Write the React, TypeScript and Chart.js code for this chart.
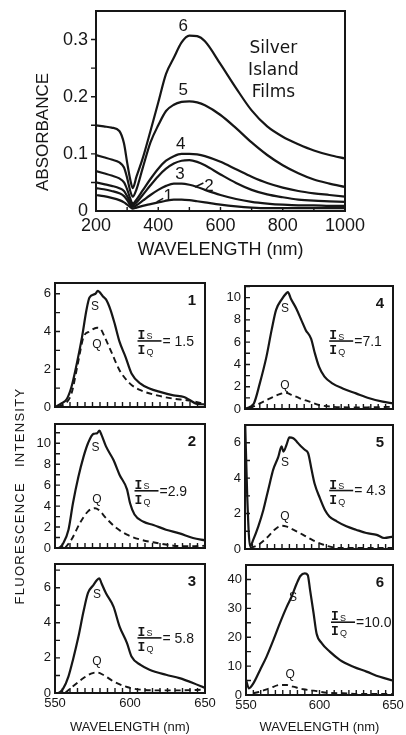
import React, { useEffect, useRef } from 'react';
import { Chart, registerables } from 'chart.js';

Chart.register(...registerables);

const FONT = "'Liberation Sans', Arial, sans-serif";
const MONO = "'Liberation Mono', 'DejaVu Sans Mono', monospace";
const DJV = "'DejaVu Sans', sans-serif";
const INK = '#161616';

// ---------------- Absorbance (top chart) ----------------
const absWl = [200, 225, 250, 275, 290, 300, 310, 318, 330, 350, 375, 400, 425, 450, 475, 500, 525, 550, 600, 650, 700, 750, 800, 850, 900, 950, 1000];
const abs1 = [0.028, 0.026, 0.023, 0.019, 0.015, 0.011, 0.007, 0.004, 0.006, 0.009, 0.012, 0.015, 0.018, 0.020, 0.020, 0.019, 0.017, 0.015, 0.011, 0.008, 0.006, 0.005, 0.005, 0.005, 0.005, 0.005, 0.005];
const abs2 = [0.040, 0.038, 0.035, 0.031, 0.026, 0.019, 0.011, 0.007, 0.010, 0.018, 0.028, 0.037, 0.044, 0.048, 0.048, 0.046, 0.042, 0.037, 0.028, 0.021, 0.016, 0.013, 0.011, 0.010, 0.010, 0.009, 0.009];
const abs3 = [0.050, 0.047, 0.044, 0.040, 0.035, 0.026, 0.016, 0.010, 0.015, 0.028, 0.045, 0.061, 0.074, 0.083, 0.088, 0.089, 0.086, 0.080, 0.064, 0.049, 0.037, 0.029, 0.024, 0.020, 0.018, 0.017, 0.016];
const abs4 = [0.070, 0.066, 0.062, 0.057, 0.050, 0.038, 0.022, 0.013, 0.020, 0.036, 0.056, 0.074, 0.088, 0.096, 0.100, 0.100, 0.099, 0.096, 0.086, 0.073, 0.060, 0.049, 0.041, 0.035, 0.031, 0.028, 0.025];
const abs5 = [0.098, 0.094, 0.090, 0.085, 0.076, 0.058, 0.035, 0.025, 0.038, 0.075, 0.120, 0.150, 0.175, 0.186, 0.191, 0.192, 0.190, 0.185, 0.168, 0.145, 0.120, 0.098, 0.080, 0.066, 0.055, 0.048, 0.042];
const abs6 = [0.150, 0.148, 0.146, 0.140, 0.118, 0.085, 0.055, 0.040, 0.060, 0.092, 0.140, 0.190, 0.240, 0.268, 0.295, 0.307, 0.306, 0.297, 0.257, 0.215, 0.176, 0.148, 0.130, 0.117, 0.106, 0.098, 0.092];

const absMinorX = [300, 400, 500, 600, 700, 800, 900];
const absMinorY = [0.05, 0.1, 0.15, 0.2, 0.25, 0.3];
const absCurveNames = ['1', '2', '3', '4', '5', '6'];
const absNameX = [432, 563, 470, 472, 480, 480];
const absNameY = [0.025, 0.044, 0.064, 0.116, 0.211, 0.323];
const silverLines = ['Silver', 'Island', 'Films'];
const silverY = [0.2845, 0.246, 0.2077];

// ---------------- Fluorescence panels ----------------
const wl1S = [550, 554, 558, 561, 564, 568, 571, 573, 577, 578.5, 582, 584, 587, 590, 593, 597, 601, 607, 613, 620, 629, 636, 640, 644, 650];
const in1S = [0, 0.18, 0.44, 1.07, 2.1, 3.7, 5.15, 5.8, 6.0, 6.15, 5.86, 5.7, 5.15, 4.35, 3.46, 2.66, 1.78, 1.24, 0.98, 0.8, 0.62, 0.53, 0.36, 0.18, 0.14];
const wl1Q = [552, 558, 561, 565, 569, 573, 578, 580, 583, 588, 593, 600, 607, 618, 629, 638, 644, 650];
const in1Q = [0, 0.27, 0.71, 2.2, 3.7, 4.0, 4.2, 4.17, 3.73, 2.84, 1.95, 1.24, 0.89, 0.62, 0.44, 0.36, 0.27, 0.14];

const wl2S = [550, 552, 555.6, 559, 562, 565.6, 569, 572, 575.6, 578, 579.6, 581, 584, 589, 593, 598, 600, 603, 609, 615.6, 624, 633, 642, 650];
const in2S = [0, 0, 0.48, 1.75, 4.3, 6.8, 8.7, 10, 10.9, 10.95, 11.2, 10.8, 9.7, 8.4, 7.0, 5.6, 4.3, 3.2, 2.5, 2.2, 1.75, 1.4, 0.95, 0.73];
const wl2Q = [556.7, 561, 566.7, 572, 576.7, 579, 584, 591, 598, 607, 618, 629, 640, 650];
const in2Q = [0, 0.8, 2.4, 3.5, 3.8, 3.65, 2.86, 1.9, 1.27, 0.8, 0.48, 0.22, 0.16, 0.22];

const wl3S = [550, 552, 555.6, 559, 562, 565.6, 569, 572, 575.6, 578, 579.6, 581, 584, 589, 593, 598, 601, 607, 613, 624, 633, 642, 650];
const in3S = [0, 0, 0.28, 0.95, 1.9, 3.2, 4.64, 5.7, 6.15, 6.44, 6.53, 6.25, 5.68, 4.92, 3.8, 2.84, 2.08, 1.6, 1.33, 1.04, 0.85, 0.57, 0.28];
const wl3Q = [556.7, 562, 569, 574, 578, 582, 589, 598, 607, 620, 633, 650];
const in3Q = [0, 0.38, 0.85, 1.1, 1.17, 1.04, 0.66, 0.34, 0.19, 0.15, 0.15, 0.19];

const wl4S = [550, 551, 556, 560, 564.5, 568, 571, 574.6, 578, 579, 581, 584.7, 588, 591, 594.7, 597, 600, 603.7, 609, 616, 625, 634, 643, 650];
const in4S = [0, 0.06, 0.5, 2.3, 4.7, 7.1, 8.9, 9.8, 10.4, 10.5, 9.9, 9.0, 8.0, 7.1, 6.3, 5.1, 3.8, 2.9, 2.3, 1.85, 1.4, 0.96, 0.66, 0.5];
const wl4Q = [553, 560, 567, 573.5, 577.5, 581, 587, 593.6, 600, 609, 620, 632, 650];
const in4Q = [0.06, 0.5, 0.96, 1.34, 1.46, 1.3, 0.96, 0.66, 0.36, 0.2, 0.15, 0.15, 0.2];

const wl5S = [550, 551.5, 553.4, 555.6, 559, 562.4, 564.6, 567, 569, 572.5, 574.7, 576, 578, 580, 582.6, 585, 587, 590.4, 592.7, 595, 597, 600.6, 604, 607, 612, 618.5, 625, 632, 639, 644, 650];
const in5S = [7.5, 3.0, 0.15, 0.53, 1.28, 2.2, 2.96, 3.8, 4.47, 5.2, 5.8, 5.5, 5.87, 6.3, 6.25, 6.06, 5.87, 5.6, 5.4, 4.47, 3.7, 2.87, 2.2, 1.84, 1.56, 1.28, 1.09, 0.9, 0.8, 0.62, 0.7];
const wl5Q = [553.4, 559, 564.6, 570, 574.7, 577.6, 582.6, 589.3, 596, 603, 614, 625, 639, 650];
const in5Q = [0.05, 0.24, 0.62, 1.09, 1.31, 1.28, 1.09, 0.8, 0.49, 0.24, 0.06, 0.06, 0.06, 0.06];

const wl6S = [550, 552, 555, 559.5, 564, 568.6, 573, 577.7, 581, 584.5, 587, 590, 592, 593.6, 596, 598, 601.6, 607, 614, 623, 632, 641, 650];
const in6S = [5.2, 2.3, 4.0, 8.6, 13.3, 19, 24.8, 30.5, 34, 38.6, 41.2, 42.1, 41.5, 36.3, 28.2, 21.3, 17.9, 15, 12.1, 9.8, 8.1, 6.3, 5];
const wl6Q = [555, 559.5, 566, 573, 577.7, 582, 589, 596, 605, 616, 628, 639, 650];
const in6Q = [0.6, 1.15, 2.3, 3.46, 3.46, 2.9, 2.0, 1.5, 0.8, 0.58, 0.35, 0.35, 0.35];

const ratioText = ['= 1.5', '=2.9', '= 5.8', '=7.1', '= 4.3', '=10.0'];
const panelMinorX = [555, 560, 565, 570, 575, 580, 585, 590, 595, 600, 605, 610, 615, 620, 625, 630, 635, 640, 645];
const minorY1 = [1, 2, 3, 4, 5, 6];
const minorY2 = [1, 2, 3, 4, 5, 6, 7, 8, 9, 10, 11];
const minorY3 = [1, 2, 3, 4, 5, 6, 7];
const minorY4 = [1, 2, 3, 4, 5, 6, 7, 8, 9, 10, 11];
const minorY5 = [1, 2, 3, 4, 5, 6];
const minorY6 = [5, 10, 15, 20, 25, 30, 35, 40];

const pts = (wl: number[], v: number[]) => wl.map((x, i) => ({ x, y: v[i] }));

function drawFraction(ctx: CanvasRenderingContext2D, cx: number, cy: number, ratio: string) {
  ctx.lineWidth = 1.6;
  ctx.beginPath();
  ctx.moveTo(cx - 12, cy);
  ctx.lineTo(cx + 12, cy);
  ctx.stroke();
  ctx.textAlign = 'left';
  ctx.textBaseline = 'alphabetic';
  ctx.font = `bold 13px ${MONO}`;
  ctx.fillText('I', cx - 12, cy - 2);
  ctx.fillText('I', cx - 12, cy + 13);
  ctx.font = `9px ${FONT}`;
  ctx.fillText('S', cx - 3, cy - 1.5);
  ctx.fillText('Q', cx - 3, cy + 14);
  ctx.font = `14px ${FONT}`;
  ctx.textBaseline = 'middle';
  ctx.fillText(ratio, cx + 13, cy + 1);
}

function makeDeco(d: any) {
  return {
    id: 'deco',
    afterDatasetsDraw(chart: any) {
      const ctx: CanvasRenderingContext2D = chart.ctx;
      const a = chart.chartArea;
      const xs = chart.scales.x;
      const ys = chart.scales.y;
      const X = (v: number) => xs.getPixelForValue(v);
      const Y = (v: number) => ys.getPixelForValue(v);
      ctx.save();
      ctx.strokeStyle = INK;
      ctx.fillStyle = INK;
      ctx.lineWidth = 2;
      ctx.strokeRect(a.left, a.top, a.right - a.left, a.bottom - a.top);
      ctx.lineWidth = 1.4;
      ctx.beginPath();
      d.xTicks.forEach((v: number) => { const p = X(v); ctx.moveTo(p, a.bottom); ctx.lineTo(p, a.bottom - d.xLen); });
      d.yTicks.forEach((v: number) => { const p = Y(v); ctx.moveTo(a.left, p); ctx.lineTo(a.left + d.yLen, p); });
      (d.leaders || []).forEach((l: number[]) => { ctx.moveTo(X(l[0]), Y(l[1])); ctx.lineTo(X(l[2]), Y(l[3])); });
      ctx.stroke();
      (d.texts || []).forEach((t: any) => {
        ctx.font = `${t.bold ? 'bold ' : ''}${t.size}px ${t.family || FONT}`;
        ctx.textAlign = t.align || 'center';
        ctx.textBaseline = 'middle';
        ctx.fillText(t.t, X(t.x), Y(t.y));
      });
      if (d.fraction) drawFraction(ctx, X(d.fraction.x), Y(d.fraction.y), d.fraction.t);
      if (d.panelNo) {
        ctx.font = `bold 15px ${FONT}`;
        ctx.textAlign = 'center';
        ctx.textBaseline = 'middle';
        ctx.fillText(d.panelNo, a.right - 13, a.top + 18);
      }
      if (d.vTitle) {
        ctx.save();
        ctx.translate(d.vTitle.x, d.vTitle.y);
        ctx.rotate(-Math.PI / 2);
        ctx.font = `${d.vTitle.size}px ${FONT}`;
        ctx.textAlign = 'center';
        ctx.textBaseline = 'middle';
        ctx.fillText(d.vTitle.t, 0, 0);
        ctx.restore();
      }
      ctx.restore();
    },
  };
}

function PlotCanvas(props: any) {
  const ref = useRef<HTMLCanvasElement | null>(null);
  const { box } = props;
  useEffect(() => {
    const { area, datasets, xOpts, yOpts, deco } = props;
    const yW = area.left - box.left;
    const xH = box.top + box.height - area.bottom;
    const zeroPad = (s: any) => { s.paddingTop = 0; s.paddingBottom = 0; s.paddingLeft = 0; s.paddingRight = 0; };
    const chart = new Chart(ref.current as HTMLCanvasElement, {
      type: 'line',
      data: { datasets },
      options: {
        responsive: false,
        animation: false,
        devicePixelRatio: 1,
        events: [],
        layout: { padding: { left: 0, top: area.top - box.top, right: box.left + box.width - area.right, bottom: 0 } },
        plugins: { legend: { display: false }, tooltip: { enabled: false } },
        elements: {
          point: { radius: 0 },
          line: { borderColor: INK, borderWidth: 2, cubicInterpolationMode: 'monotone', fill: false },
        },
        scales: {
          x: {
            type: 'linear',
            grid: { display: false, drawTicks: false },
            border: { display: false },
            ...xOpts,
            afterFit: (s: any) => { s.height = xH; zeroPad(s); },
          },
          y: {
            type: 'linear',
            grid: { display: false, drawTicks: false },
            border: { display: false },
            ...yOpts,
            afterFit: (s: any) => { s.width = yW; zeroPad(s); },
          },
        },
      } as any,
      plugins: [makeDeco(deco)],
    });
    return () => chart.destroy();
  }, []);
  return (
    <canvas
      ref={ref}
      width={box.width}
      height={box.height}
      style={{ position: 'absolute', left: box.left, top: box.top, width: box.width, height: box.height }}
    />
  );
}

const solid = (wl: number[], v: number[]) => ({ data: pts(wl, v), borderColor: INK, borderWidth: 2.2 });
const dashed = (wl: number[], v: number[]) => ({ data: pts(wl, v), borderColor: INK, borderWidth: 1.9, borderDash: [6, 4] });

const tickFont = { size: 13, family: FONT };
const plain = (v: any) => String(v);

function panel(n: number, box: any, area: any, S: any, Q: any, yMax: number, yStep: number, yMinor: number[], bottomRow: boolean, sPos: number[], qPos: number[], frac: number[]) {
  return {
    key: n,
    box,
    area,
    datasets: [solid(S[0], S[1]), dashed(Q[0], Q[1])],
    xOpts: {
      min: 550,
      max: 650,
      ticks: bottomRow
        ? { stepSize: 50, padding: 3, font: tickFont, color: INK, maxRotation: 0, autoSkip: false, callback: plain }
        : { display: false },
      title: bottomRow
        ? { display: true, text: 'WAVELENGTH (nm)', font: { size: 13, family: FONT }, color: INK, padding: { top: 0, bottom: 0 } }
        : { display: false },
    },
    yOpts: {
      min: 0,
      max: yMax,
      ticks: { stepSize: yStep, includeBounds: false, padding: 4, font: tickFont, color: INK, callback: plain },
    },
    deco: {
      xTicks: panelMinorX,
      xLen: 5,
      yTicks: yMinor,
      yLen: 5,
      panelNo: String(n),
      texts: [
        { t: 'S', x: sPos[0], y: sPos[1], size: 12 },
        { t: 'Q', x: qPos[0], y: qPos[1], size: 12 },
      ],
      fraction: { x: frac[0], y: frac[1], t: ratioText[n - 1] },
    },
  };
}

const L = { left: 0, width: 217 };
const R = { left: 217, width: 189 };
const PANELS = [
  panel(1, { ...L, top: 270, height: 150 }, { left: 55, top: 283, right: 205, bottom: 407 }, [wl1S, in1S], [wl1Q, in1Q], 6.57, 2, minorY1, false, [576.7, 5.3], [578, 3.3], [613, 3.5]),
  panel(2, { ...L, top: 412, height: 150 }, { left: 55, top: 424, right: 205, bottom: 548 }, [wl2S, in2S], [wl2Q, in2Q], 11.84, 2, minorY2, false, [577, 9.6], [578, 4.6], [611, 5.46]),
  panel(3, { ...L, top: 552, height: 183 }, { left: 55, top: 564, right: 205, bottom: 693 }, [wl3S, in3S], [wl3Q, in3Q], 7.35, 2, minorY3, true, [578, 5.6], [578, 1.77], [613, 3.14]),
  panel(4, { ...R, top: 270, height: 150 }, { left: 245, top: 286, right: 393, bottom: 409 }, [wl4S, in4S], [wl4Q, in4Q], 11.04, 2, minorY4, false, [577, 9.0], [577, 2.1], [615, 6.1]),
  panel(5, { ...R, top: 412, height: 150 }, { left: 245, top: 425, right: 393, bottom: 549 }, [wl5S, in5S], [wl5Q, in5Q], 7.0, 2, minorY5, false, [577, 4.9], [577, 1.8], [615, 3.3]),
  panel(6, { ...R, top: 552, height: 183 }, { left: 246, top: 565, right: 393, bottom: 695 }, [wl6S, in6S], [wl6Q, in6Q], 45, 10, minorY6, true, [582, 33.8], [580, 6.9], [616, 25.2]),
];

const absSeries = [abs1, abs2, abs3, abs4, abs5, abs6];

const TOP = {
  box: { left: 0, top: 0, width: 406, height: 268 },
  area: { left: 96, top: 11, right: 345, bottom: 211 },
  datasets: absSeries.map((s) => ({ data: pts(absWl, s), borderColor: INK, borderWidth: 2.2 })),
  xOpts: {
    min: 200,
    max: 1000,
    ticks: { stepSize: 200, padding: 4, font: { size: 18, family: FONT }, color: INK, maxRotation: 0, autoSkip: false, callback: plain },
    title: { display: true, text: 'WAVELENGTH (nm)', font: { size: 18, family: FONT }, color: INK, padding: { top: 0, bottom: 7 } },
  },
  yOpts: {
    min: 0,
    max: 0.35,
    ticks: {
      stepSize: 0.1,
      includeBounds: false,
      padding: 8,
      font: { size: 18, family: FONT },
      color: INK,
      callback: (v: any) => (Number(v) === 0 ? '0' : Number(v).toFixed(1)),
    },
  },
  deco: {
    xTicks: absMinorX,
    xLen: 4,
    yTicks: absMinorY,
    yLen: -5,
    leaders: [
      [395, 0.016, 416, 0.022],
      [518, 0.042, 545, 0.049],
    ],
    texts: [
      ...absCurveNames.map((t, i) => ({ t, x: absNameX[i], y: absNameY[i], size: 17 })),
      ...silverLines.map((t, i) => ({ t, x: 770, y: silverY[i], size: 17, family: DJV })),
    ],
    vTitle: { t: 'ABSORBANCE', x: 43, y: 132, size: 17 },
  },
};

export default function App() {
  return (
    <div style={{ position: 'absolute', left: 0, top: 0, width: 406, height: 735, background: '#fff', overflow: 'hidden' }}>
      <PlotCanvas {...TOP} />
      {PANELS.map((p) => (
        <PlotCanvas key={p.key} {...p} />
      ))}
      <div
        style={{
          position: 'absolute',
          left: 20 - 130,
          top: 496 - 8,
          width: 260,
          height: 16,
          lineHeight: '16px',
          textAlign: 'center',
          transform: 'rotate(-90deg)',
          fontFamily: FONT,
          fontSize: 13,
          letterSpacing: '1.3px',
          wordSpacing: '10px',
          whiteSpace: 'nowrap',
          color: INK,
        }}
      >
        FLUORESCENCE INTENSITY
      </div>
    </div>
  );
}
